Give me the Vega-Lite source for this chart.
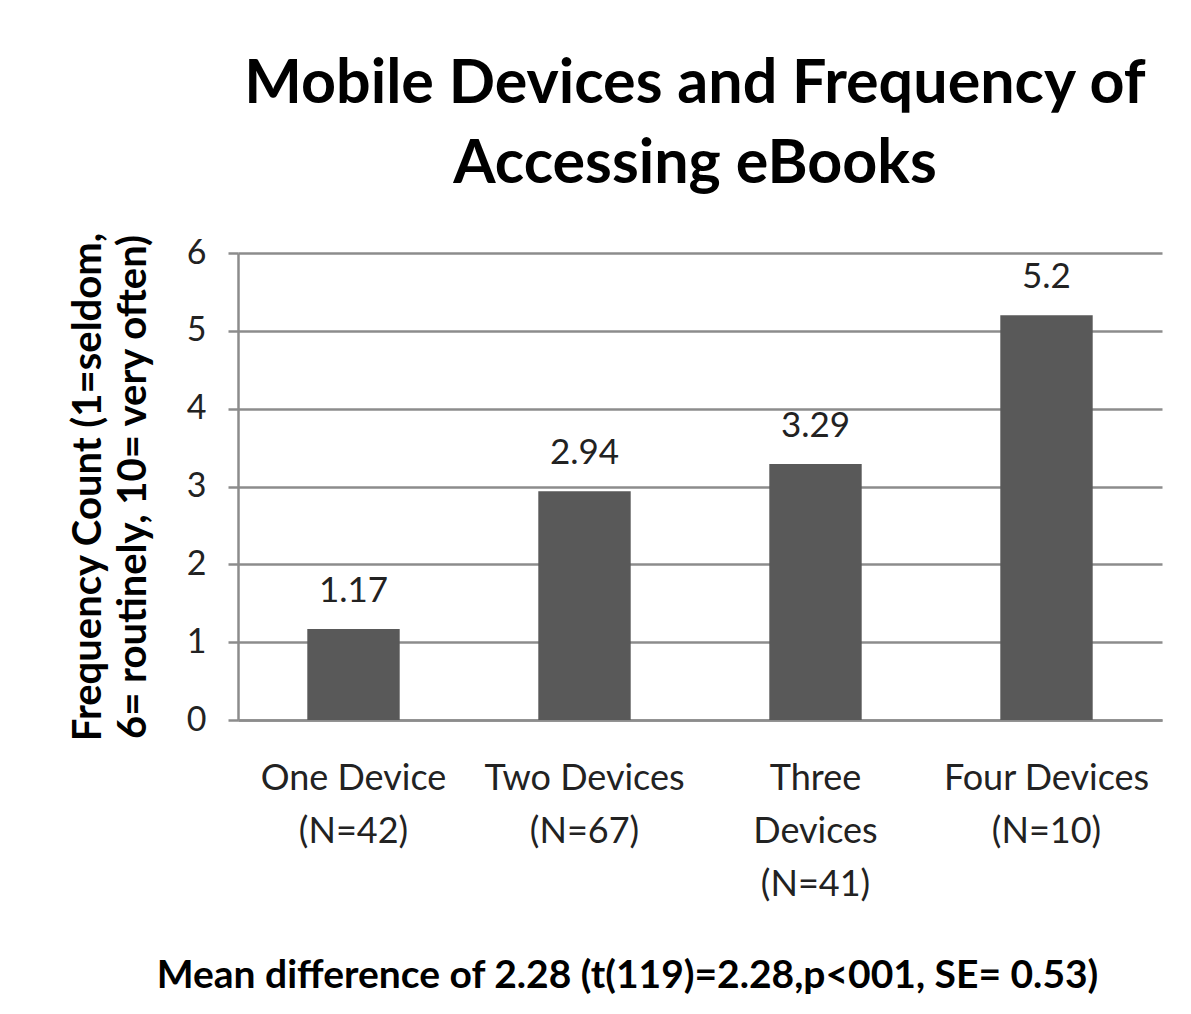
{
  "$schema": "https://vega.github.io/schema/vega-lite/v6.json",
  "width": 924,
  "height": 467,
  "autosize": "none",
  "padding": {"left": 238, "top": 253, "right": 29, "bottom": 294},
  "background": "white",
  "title": {
    "text": ["Mobile  Devices and Frequency of", "Accessing eBooks"],
    "fontSize": 61,
    "fontWeight": "bold",
    "font": "Lato",
    "color": "#000000",
    "anchor": "middle",
    "dx": -5,
    "lineHeight": 80,
    "offset": 36
  },
  "data": {
    "values": [
      {"device": "One Device|(N=42)", "value": 1.17, "label": "1.17"},
      {"device": "Two Devices|(N=67)", "value": 2.94, "label": "2.94"},
      {"device": "Three|Devices|(N=41)", "value": 3.29, "label": "3.29"},
      {"device": "Four Devices|(N=10)", "value": 5.2, "label": "5.2"}
    ]
  },
  "encoding": {
    "x": {
      "field": "device",
      "type": "nominal",
      "sort": null,
      "scale": {"paddingInner": 0.6, "paddingOuter": 0.3},
      "axis": {
        "title": "Mean difference of 2.28 (t(119)=2.28,p<001, SE= 0.53)",
        "titleFontSize": 39,
        "titleFont": "Lato",
        "titleFontWeight": "bold",
        "titleColor": "#000000",
        "titlePadding": 54,
        "titleX": 389,
        "labelExpr": "split(datum.label, '|')",
        "labelAngle": 0,
        "labelLimit": 0,
        "labelFontSize": 36,
        "labelFont": "Lato",
        "labelColor": "#222222",
        "labelLineHeight": 53,
        "labelPadding": 41,
        "ticks": false,
        "domainColor": "#8c8c8c",
        "domainWidth": 2.5
      }
    },
    "y": {
      "field": "value",
      "type": "quantitative",
      "scale": {"domain": [0, 6]},
      "axis": {
        "values": [0, 1, 2, 3, 4, 5, 6],
        "title": ["Frequency Count (1=seldom,", "6= routinely, 10= very often)"],
        "titleFontSize": 40,
        "titleFont": "Lato",
        "titleFontWeight": "bold",
        "titleColor": "#000000",
        "titleLineHeight": 45,
        "titlePadding": 33,
        "labelFontSize": 34,
        "labelFont": "Lato",
        "labelColor": "#222222",
        "labelPadding": 22,
        "tickSize": 10,
        "tickColor": "#8c8c8c",
        "tickWidth": 2.5,
        "gridColor": "#8c8c8c",
        "gridWidth": 2.5,
        "domainColor": "#8c8c8c",
        "domainWidth": 2.5
      }
    }
  },
  "layer": [
    {"mark": {"type": "bar", "color": "#595959"}},
    {
      "mark": {"type": "text", "baseline": "bottom", "dy": -20, "fontSize": 35, "font": "Lato", "color": "#222222"},
      "encoding": {"text": {"field": "label"}}
    }
  ],
  "config": {"view": {"stroke": null}}
}
